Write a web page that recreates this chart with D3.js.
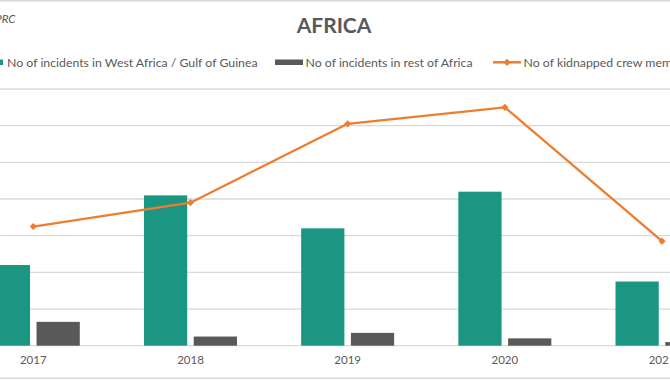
<!DOCTYPE html>
<html>
<head>
<meta charset="utf-8">
<script src="https://cdn.jsdelivr.net/npm/d3@7"></script>
<style>
  html, body { margin: 0; padding: 0; background: #fff; overflow: hidden; }
  svg { display: block; font-family: Lato, "Open Sans", sans-serif; }
</style>
</head>
<body>
<svg id="chart" width="670" height="380"></svg>
<script>
const years = ["2017", "2018", "2019", "2020", "2021"];
const westAfrica = [44, 82, 64, 84, 35];
const restOfAfrica = [13, 5, 7, 4, 2];
const kidnapped = [65, 78, 121, 130, 57];
const seriesNames = [
  "No of incidents in West Africa / Gulf of Guinea",
  "No of incidents in rest of Africa",
  "No of kidnapped crew members"
];
const yTicks = [0, 20, 40, 60, 80, 100, 120, 140];
const titleText = "AFRICA";
const sourceText = "Source: IMB PRC";

const colTeal = "#1a9683", colGrey = "#595959", colOrange = "#ed7d31";
const textCol = "#595959", gridCol = "#d9d9d9";

const svg = d3.select("#chart");

// chart-area border (partly cropped)
svg.append("rect").attr("x", -10).attr("y", 0.75).attr("width", 690).attr("height", 377.5)
  .attr("fill", "none").attr("stroke", gridCol).attr("stroke-width", 1.5);

const x = d3.scaleBand().domain(years).range([-45.3, 740.6]).padding(0);
const xs = d3.scaleBand().domain(["wa", "rest"]).range([-46.5, 46.5]).paddingInner(0.131).paddingOuter(0);
const y = d3.scaleLinear().domain([0, 140]).range([345.7, 89]);

// gridlines
svg.append("g").selectAll("line").data(yTicks).join("line")
  .attr("x1", -10).attr("x2", 680)
  .attr("y1", d => y(d)).attr("y2", d => y(d))
  .attr("stroke", gridCol).attr("stroke-width", 1.3);

// bars
const cx = d => x(d) + x.bandwidth() / 2;
svg.append("g").selectAll("rect").data(years).join("rect")
  .attr("x", d => cx(d) + xs("wa")).attr("width", xs.bandwidth())
  .attr("y", (d, i) => y(westAfrica[i])).attr("height", (d, i) => y(0) - y(westAfrica[i]))
  .attr("fill", colTeal);
svg.append("g").selectAll("rect").data(years).join("rect")
  .attr("x", d => cx(d) + xs("rest")).attr("width", xs.bandwidth())
  .attr("y", (d, i) => y(restOfAfrica[i])).attr("height", (d, i) => y(0) - y(restOfAfrica[i]))
  .attr("fill", colGrey);

// line
const line = d3.line().x((d, i) => cx(years[i])).y(d => y(d));
svg.append("path").datum(kidnapped).attr("d", line)
  .attr("fill", "none").attr("stroke", colOrange).attr("stroke-width", 2.3).attr("stroke-linejoin", "round");
const diamond = d3.symbol().type(d3.symbolSquare).size(26);
svg.append("g").selectAll("path").data(kidnapped).join("path")
  .attr("transform", (d, i) => `translate(${cx(years[i])},${y(d)}) rotate(45)`)
  .attr("d", diamond).attr("fill", colOrange);

// x axis labels
const xAxis = d3.axisBottom(x).tickSize(0).tickPadding(0);
const gx = svg.append("g").attr("transform", "translate(0,356)").call(xAxis);
gx.select(".domain").remove();
gx.selectAll("text").attr("fill", textCol).attr("font-size", 11.5).attr("dy", "0.71em")
  .attr("font-family", "Lato, sans-serif");

// title
svg.append("text").attr("x", 334).attr("y", 33).attr("text-anchor", "middle")
  .attr("font-size", 21).attr("font-weight", "bold").attr("fill", textCol).text(titleText);

// source
svg.append("text").attr("x", 15.5).attr("y", 23).attr("text-anchor", "end")
  .attr("font-size", 11.5).attr("font-style", "italic").attr("fill", textCol).text(sourceText);

// legend
const legY = 66.5;
const lg = svg.append("g");
// item 1
lg.append("rect").attr("x", -25).attr("y", 59.5).attr("width", 28).attr("height", 5.5).attr("fill", colTeal);
lg.append("text").attr("x", 7).attr("y", legY).attr("font-size", 12.3).attr("fill", textCol).text(seriesNames[0]);
// item 2
lg.append("rect").attr("x", 275).attr("y", 59.5).attr("width", 28).attr("height", 5.5).attr("fill", colGrey);
lg.append("text").attr("x", 305.5).attr("y", legY).attr("font-size", 12.3).attr("fill", textCol).text(seriesNames[1]);
// item 3
lg.append("line").attr("x1", 493).attr("x2", 521).attr("y1", 62.3).attr("y2", 62.3)
  .attr("stroke", colOrange).attr("stroke-width", 2.5);
lg.append("path").attr("transform", "translate(507,62.3) rotate(45)").attr("d", diamond).attr("fill", colOrange);
lg.append("text").attr("x", 523.5).attr("y", legY).attr("font-size", 12.3).attr("fill", textCol).text(seriesNames[2]);
</script>
</body>
</html>
